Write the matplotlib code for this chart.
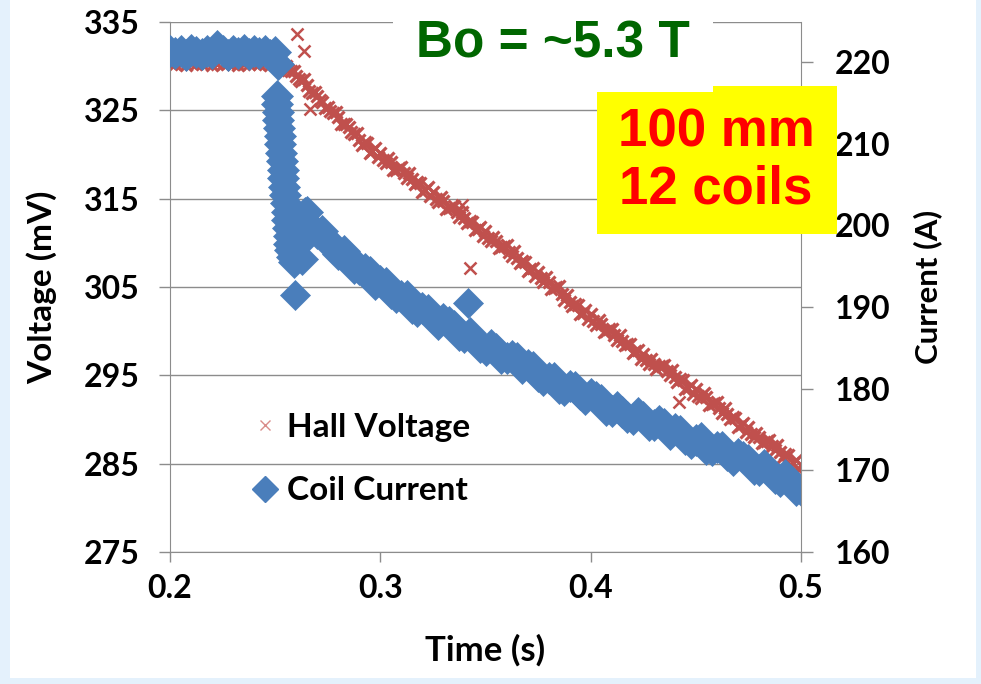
import matplotlib.pyplot as plt
from matplotlib.lines import Line2D
from matplotlib.patches import Rectangle

plt.rcParams['font.family'] = ['Lato', 'DejaVu Sans']

# Hall voltage (mV), left axis
hall_t = [0.2000, 0.2025, 0.2050, 0.2075, 0.2100, 0.2125, 0.2150, 0.2175, 0.2200, 0.2225,
          0.2250, 0.2275, 0.2300, 0.2325, 0.2350, 0.2375, 0.2400, 0.2425, 0.2450, 0.2475,
          0.2500, 0.2525, 0.2550, 0.2575, 0.2600, 0.2625, 0.2650, 0.2675, 0.2700, 0.2725,
          0.2750, 0.2775, 0.2800, 0.2825, 0.2850, 0.2875, 0.2900, 0.2925, 0.2950, 0.2975,
          0.3000, 0.3025, 0.3050, 0.3075, 0.3100, 0.3125, 0.3150, 0.3175, 0.3200, 0.3225,
          0.3250, 0.3275, 0.3300, 0.3325, 0.3350, 0.3375, 0.3400, 0.3425, 0.3450, 0.3475,
          0.3500, 0.3525, 0.3550, 0.3575, 0.3600, 0.3625, 0.3650, 0.3675, 0.3700, 0.3725,
          0.3750, 0.3775, 0.3800, 0.3825, 0.3850, 0.3875, 0.3900, 0.3925, 0.3950, 0.3975,
          0.4000, 0.4025, 0.4050, 0.4075, 0.4100, 0.4125, 0.4150, 0.4175, 0.4200, 0.4225,
          0.4250, 0.4275, 0.4300, 0.4325, 0.4350, 0.4375, 0.4400, 0.4425, 0.4450, 0.4475,
          0.4500, 0.4525, 0.4550, 0.4575, 0.4600, 0.4625, 0.4650, 0.4675, 0.4700, 0.4725,
          0.4750, 0.4775, 0.4800, 0.4825, 0.4850, 0.4875, 0.4900, 0.4925, 0.4950, 0.4975,
          0.5000]
hall_v = [330.4, 330.2, 330.3, 330.1, 330.4, 330.3, 330.2, 330.4, 330.1, 330.3,
          330.2, 330.4, 330.3, 330.1, 330.3, 330.2, 330.4, 330.2, 330.3, 330.1,
          330.3, 330.2, 330.0, 329.5, 328.9, 328.3, 327.9, 327.0, 326.6, 325.9,
          325.4, 324.7, 324.3, 323.5, 323.1, 322.3, 321.6, 321.4, 320.2, 320.7,
          320.2, 319.0, 319.1, 318.3, 318.6, 317.3, 317.2, 316.9, 315.8, 316.3,
          315.8, 314.6, 314.7, 313.9, 314.2, 312.9, 312.8, 312.5, 311.4, 311.8,
          311.3, 310.2, 310.2, 309.5, 309.7, 308.5, 308.3, 307.9, 306.8, 307.2,
          306.7, 305.6, 305.6, 304.9, 305.1, 303.5, 303.3, 303.1, 301.9, 302.4,
          301.9, 300.7, 300.8, 300.0, 300.3, 299.0, 298.9, 298.6, 297.5, 297.9,
          297.4, 296.3, 296.3, 296.0, 296.2, 295.0, 294.8, 294.6, 293.4, 293.9,
          293.4, 292.4, 292.5, 291.7, 292.0, 290.7, 290.6, 290.3, 289.2, 289.6,
          289.1, 288.0, 288.0, 287.5, 287.7, 286.5, 286.3, 286.1, 284.9, 285.4,
          284.8]
# in-between samples of the falling part
hall_t2 = [0.25625, 0.25875, 0.26125, 0.26375, 0.26625, 0.26875, 0.27125, 0.27375,
           0.27625, 0.27875, 0.28125, 0.28375, 0.28625, 0.28875, 0.29125, 0.29375,
           0.29625, 0.29875, 0.30125, 0.30375, 0.30625, 0.30875, 0.31125, 0.31375,
           0.31625, 0.31875, 0.32125, 0.32375, 0.32625, 0.32875, 0.33125, 0.33375,
           0.33625, 0.33875, 0.34125, 0.34375, 0.34625, 0.34875, 0.35125, 0.35375,
           0.35625, 0.35875, 0.36125, 0.36375, 0.36625, 0.36875, 0.37125, 0.37375,
           0.37625, 0.37875, 0.38125, 0.38375, 0.38625, 0.38875, 0.39125, 0.39375,
           0.39625, 0.39875, 0.40125, 0.40375, 0.40625, 0.40875, 0.41125, 0.41375,
           0.41625, 0.41875, 0.42125, 0.42375, 0.42625, 0.42875, 0.43125, 0.43375,
           0.43625, 0.43875, 0.44125, 0.44375, 0.44625, 0.44875, 0.45125, 0.45375,
           0.45625, 0.45875, 0.46125, 0.46375, 0.46625, 0.46875, 0.47125, 0.47375,
           0.47625, 0.47875, 0.48125, 0.48375, 0.48625, 0.48875, 0.49125, 0.49375,
           0.49625, 0.49875]
hall_v2 = [329.6, 329.4, 328.6, 328.5, 327.2, 327.1, 326.2, 325.3,
           324.9, 324.8, 323.4, 323.5, 322.5, 322.4, 321.1, 321.3,
           320.4, 319.7, 319.4, 319.6, 318.2, 318.5, 317.9, 317.9,
           316.7, 316.8, 316.0, 315.3, 315.0, 315.2, 313.8, 314.1,
           313.5, 313.5, 312.3, 312.4, 311.6, 310.8, 310.6, 310.7,
           309.4, 309.6, 309.0, 309.1, 307.7, 307.8, 307.0, 306.2,
           306.0, 306.1, 304.8, 305.0, 304.2, 304.1, 302.8, 303.0,
           302.1, 301.4, 301.1, 301.3, 299.9, 300.2, 299.6, 299.6,
           298.4, 298.5, 297.7, 296.9, 296.7, 296.8, 295.7, 296.1,
           295.5, 295.6, 294.3, 294.5, 293.6, 292.9, 292.7, 293.0,
           291.6, 291.9, 291.3, 291.3, 290.1, 290.2, 289.4, 288.6,
           288.4, 288.5, 287.3, 287.6, 287.0, 287.1, 285.8, 286.0,
           285.1, 284.4]
hall_out_t = [0.2605, 0.2638, 0.2667, 0.3390, 0.3424, 0.4419]
hall_out_v = [333.6, 331.7, 325.2, 314.3, 307.2, 292.0]

# Coil current (A), right axis
coil_t = [0.2000, 0.2025, 0.2050, 0.2075, 0.2100, 0.2125, 0.2150, 0.2175, 0.2200, 0.2225,
          0.2250, 0.2275, 0.2300, 0.2325, 0.2350, 0.2375, 0.2400, 0.2425, 0.2450, 0.2475,
          0.2500, 0.2515,
          0.2510, 0.2511, 0.2512, 0.2514, 0.2519, 0.2521, 0.2524, 0.2529, 0.2533, 0.2536,
          0.2538, 0.2543, 0.2548, 0.2552, 0.2555, 0.2557, 0.2562, 0.2564, 0.2567, 0.2571,
          0.2581, 0.2590,
          0.2610, 0.2619, 0.2629, 0.2643, 0.2629,
          0.265, 0.270, 0.275, 0.280, 0.285, 0.290, 0.295, 0.300, 0.305, 0.310,
          0.315, 0.320, 0.325, 0.330, 0.335, 0.340, 0.345, 0.350, 0.355, 0.360,
          0.365, 0.370, 0.375, 0.380, 0.385, 0.390, 0.395, 0.400, 0.405, 0.410,
          0.415, 0.420, 0.425, 0.430, 0.435, 0.440, 0.445, 0.450, 0.455, 0.460,
          0.465, 0.470, 0.475, 0.480, 0.485, 0.490, 0.495, 0.500]
coil_i = [221.4, 221.1, 221.3, 220.9, 221.5, 221.2, 221.0, 221.4, 221.1, 221.9,
          221.3, 220.9, 221.4, 221.1, 221.5, 221.0, 221.3, 221.1, 221.4, 220.9,
          221.2, 219.7,
          215.8, 214.8, 213.9, 212.9, 211.9, 210.9, 210.0, 208.9, 207.9, 206.8,
          205.8, 204.7, 203.7, 202.7, 201.6, 200.7, 199.7, 198.7, 197.7, 197.0,
          196.1, 195.5,
          197.6, 199.2, 200.4, 201.5, 195.9,
          201.6, 199.1, 198.2, 196.5, 196.1, 194.7, 194.3, 193.2, 191.7, 191.3,
          189.9, 189.9, 188.7, 188.5, 187.7, 186.3, 186.0, 184.7, 184.8, 183.7,
          183.7, 182.9, 181.6, 181.3, 180.1, 180.3, 179.3, 179.3, 178.6, 177.3,
          177.2, 176.3, 176.5, 175.6, 175.7, 175.1, 173.8, 173.7, 172.6, 172.9,
          171.9, 172.0, 171.3, 170.1, 169.9, 168.7, 168.8, 167.6]
# in-between samples of the decay
coil_t2 = [0.2675, 0.2725, 0.2775, 0.2825, 0.2875, 0.2925, 0.2975, 0.3025, 0.3075, 0.3125,
           0.3175, 0.3225, 0.3275, 0.3325, 0.3375, 0.3425, 0.3475, 0.3525, 0.3575, 0.3625,
           0.3675, 0.3725, 0.3775, 0.3825, 0.3875, 0.3925, 0.3975, 0.4025, 0.4075, 0.4125,
           0.4175, 0.4225, 0.4275, 0.4325, 0.4375, 0.4425, 0.4475, 0.4525, 0.4575, 0.4625,
           0.4675, 0.4725, 0.4775, 0.4825, 0.4875, 0.4925, 0.4975]
coil_i2 = [199.8, 199.3, 197.2, 196.9, 194.8, 194.7, 192.8, 192.9, 191.2, 191.3,
           189.5, 189.6, 187.9, 188.2, 186.6, 186.8, 185.1, 185.3, 183.7, 184.0,
           182.5, 182.7, 181.1, 181.3, 179.8, 180.2, 178.7, 179.0, 177.4, 177.8,
           176.5, 177.0, 175.6, 176.0, 174.5, 174.8, 173.4, 173.9, 172.5, 172.8,
           171.3, 171.6, 170.2, 170.6, 169.1, 169.4, 167.6]
coil_out_t = [0.2595, 0.3419]
coil_out_i = [191.5, 190.5]

x_ticks = [0.2, 0.3, 0.4, 0.5]
v_ticks = [275, 285, 295, 305, 315, 325, 335]
i_ticks = [160, 170, 180, 190, 200, 210, 220]

red = '#C0504D'
blue = '#4A7EBB'
grey = '#8C8C8C'

fig = plt.figure(figsize=(9.81, 6.84), dpi=100)
W, H = 981, 684
ax = fig.add_axes([170 / W, 1 - 552 / H, 631 / W, 530 / H])
ax2 = ax.twinx()

xkw = dict(ls='none', marker='x', ms=9, mew=2.3, color=red)
dkw = dict(ls='none', marker='D', ms=16, mew=0.5, color=blue, mec=blue)
ax.plot(hall_t, hall_v, **xkw)
ax.plot(hall_t2, hall_v2, **xkw)
ax.plot(hall_out_t, hall_out_v, ls='none', marker='x', ms=8, mew=1.8, color=red)
ax2.plot(coil_t, coil_i, **dkw)
ax2.plot(coil_t2, coil_i2, **dkw)
ax2.plot(coil_out_t, coil_out_i, ls='none', marker='D', ms=15.5, mew=0.5, color=blue, mec=blue)

ax.set_xlim(0.2, 0.5)
ax.set_ylim(275, 335)
ax2.set_ylim(160, 224.9)
ax.set_xticks(x_ticks)
ax.set_yticks(v_ticks)
ax2.set_yticks(i_ticks)

ax.grid(axis='y', color=grey, lw=1)
ax.set_axisbelow(True)
for s in ['top', 'right']:
    ax.spines[s].set_visible(False)
for s in ['top', 'left', 'bottom']:
    ax2.spines[s].set_visible(False)
for s in ['left', 'bottom']:
    ax.spines[s].set_color(grey)
ax2.spines['right'].set_color(grey)

ax.tick_params(axis='x', direction='out', length=7.5, width=1, color=grey, labelsize=23, pad=8)
ax.tick_params(axis='y', direction='out', length=8, width=1, color=grey, labelsize=23, pad=14)
ax2.tick_params(axis='y', direction='out', length=8.5, width=1, color=grey, labelsize=23, pad=16)
for lbl in ax.get_xticklabels() + ax.get_yticklabels() + ax2.get_yticklabels():
    lbl.set_fontweight('bold')

ax.set_ylabel('Voltage (mV)', fontsize=24, fontweight='bold', va='center')
ax.yaxis.set_label_coords((42 - 170) / 631, 0.5)
ax2.set_ylabel('Current (A)', fontsize=22.5, fontweight='bold', va='center')
ax2.yaxis.set_label_coords((928 - 170) / 631, 0.5)
ax.set_xlabel('Time (s)', fontsize=25, fontweight='bold', va='center')
ax.xaxis.set_label_coords(0.5, (552 - 650) / 530)

handles = [Line2D([], [], ls='none', marker='x', ms=6.5, mew=1, color='#D98C8A'),
           Line2D([], [], ls='none', marker='D', ms=13, color=blue)]
ax2.legend(handles, ['Hall Voltage', 'Coil Current'], loc='center left',
           bbox_to_anchor=(250 / W, 1 - 459 / H), bbox_transform=fig.transFigure,
           frameon=False, prop={'weight': 'bold', 'size': 24}, handlelength=0.9,
           handletextpad=0.2, labelspacing=1.05, borderpad=0, borderaxespad=0)

fig.text(553 / W, 1 - 44 / H, 'Bo = ~5.3 T', fontsize=37, fontweight='bold',
         color='#006600', family='Liberation Sans', ha='center', va='center',
         bbox=dict(boxstyle='square,pad=0.45', fc='white', ec='none'))

fig.add_artist(Rectangle((597 / W, 1 - 234 / H), 240 / W, 148 / H, transform=fig.transFigure,
                         fc='#FFFF00', ec='none', zorder=2))
fig.text(716 / W, 1 - 161 / H, '100 mm\n12 coils', fontsize=38, fontweight='bold',
         color='#FF0000', family='Liberation Sans', ha='center', va='center',
         linespacing=1.2, zorder=3)

# light blue slide edges
for r in [(0, 0, 10 / W, 1), (0, 0, 1, 6 / H), (1 - 5 / W, 0, 5 / W, 1)]:
    fig.add_artist(Rectangle(r[:2], r[2], r[3], transform=fig.transFigure,
                             fc='#E4F1FC', ec='none', zorder=0))

fig.savefig('out.png', dpi=100)
